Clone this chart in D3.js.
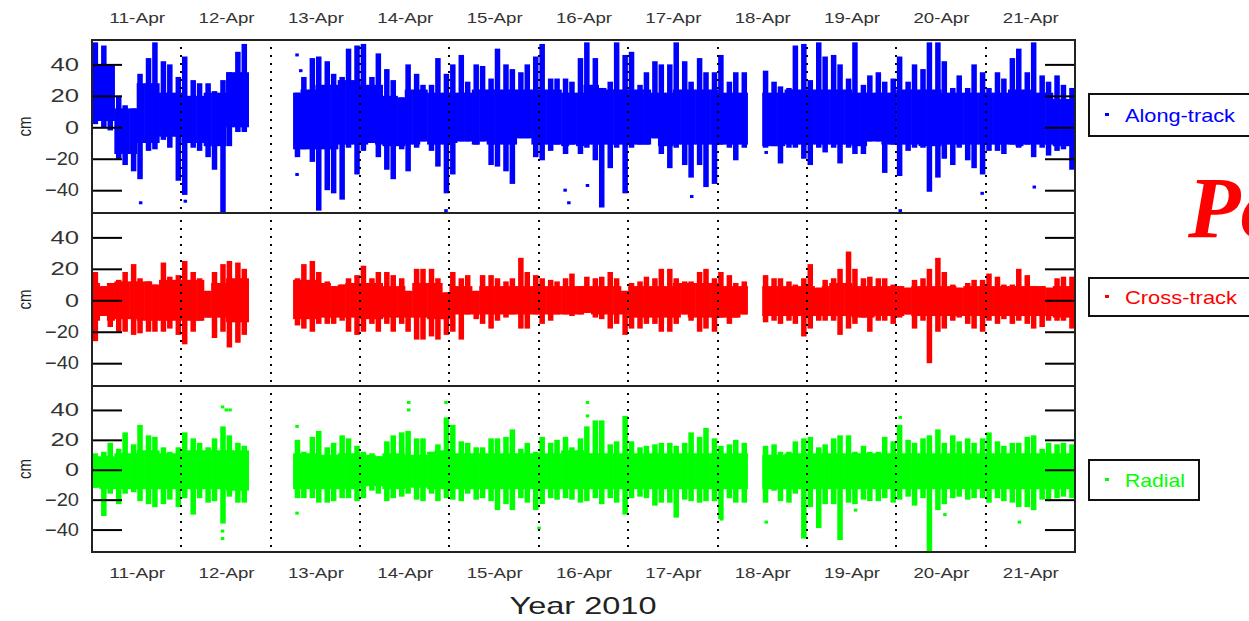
<!DOCTYPE html>
<meta charset="utf-8">
<style>
body { margin: 0; background: #fff; }
</style>
<body>
<script src="https://d3js.org/d3.v7.min.js"></script>
<script>

// 2-hour bins from 11-Apr 00:00 (132 bins), envelope of the scatter in cm, null = no data
var alongHi = [54,52,40,20,14,12,34,44,54,42,40,32,45,30,28,28,23,30,35,48,53,
  null,null,null,null,null,null,
  22,32,44,45,42,34,32,50,52,53,32,47,37,30,19,40,34,
  27,27,44,34,40,46,29,40,39,31,50,40,37,35,40,45,53,31,31,31,29,44,54,44,25,29,54,46,48,27,35,42,40,40,54,42,29,44,35,35,46,29,35,35,
  null,null,
  36,29,26,25,52,53,30,54,45,46,40,31,54,27,33,35,29,31,45,29,40,37,54,54,42,25,33,25,40,35,25,35,31,44,50,35,54,33,29,33,27,25];
var alongLo = [2,0,-2,-20,-24,-28,-33,-15,-14,-8,-13,-34,-43,-13,-15,-19,-27,-54,-12,-3,-3,
  null,null,null,null,null,null,
  -19,-14,-22,-53,-40,-42,-46,-13,-30,-15,-10,-19,-27,-33,-14,-28,-13,
  -9,-15,-25,-42,-30,-9,-9,-11,-9,-24,-25,-28,-36,-7,-7,-19,-21,-15,-11,-17,-11,-17,-13,-21,-51,-26,-13,-42,-13,-11,-11,-7,-17,-26,-13,-24,-32,-24,-38,-36,-11,-13,-21,-13,
  null,null,
  -13,-12,-23,-13,-13,-20,-24,-13,-16,-13,-23,-13,-17,-17,-9,-9,-29,-11,-31,-15,-13,-13,-41,-32,-20,-24,-13,-21,-26,-30,-15,-15,-17,-11,-13,-11,-19,-13,-18,-15,-14,-27];

var crossHi = [18,9,11,13,18,23,14,12,10,24,15,16,25,18,14,6,18,23,25,24,20,
  null,null,null,null,null,null,
  14,23,25,18,12,9,10,14,16,22,14,18,18,16,14,6,20,
  20,20,14,5,18,14,16,6,16,16,14,12,14,27,18,16,14,13,12,14,17,9,15,14,15,18,14,6,11,12,15,14,20,20,14,12,12,18,20,14,18,16,11,12,
  null,null,
  16,14,14,12,10,14,23,8,13,14,20,31,20,14,15,14,14,10,9,8,13,14,20,27,18,10,8,11,13,13,17,15,10,10,20,16,9,9,8,14,15,15];
var crossLo = [-26,-10,-17,-20,-20,-22,-21,-20,-20,-20,-18,-22,-28,-20,-13,-11,-24,-20,-30,-27,-22,
  null,null,null,null,null,null,
  -16,-18,-20,-15,-15,-15,-13,-20,-22,-20,-15,-20,-15,-20,-15,-20,-25,
  -25,-23,-25,-22,-20,-25,-9,-12,-15,-18,-13,-11,-9,-18,-18,-9,-15,-13,-9,-9,-10,-9,-8,-11,-12,-18,-15,-22,-18,-18,-15,-15,-20,-20,-15,-9,-13,-20,-18,-20,-11,-15,-11,-9,
  null,null,
  -14,-13,-15,-13,-15,-23,-18,-13,-13,-13,-22,-18,-15,-11,-20,-13,-13,-15,-11,-9,-18,-13,-40,-20,-18,-13,-11,-15,-18,-20,-13,-15,-12,-15,-13,-15,-18,-17,-13,-13,-13,-18];

var radialHi = [11,12,18,14,25,17,30,23,22,15,12,15,25,21,18,15,21,29,23,18,16,
  null,null,null,null,null,null,
  20,12,22,26,15,18,23,21,16,12,11,9,19,23,25,26,21,
  21,12,17,35,30,19,18,15,15,21,21,22,27,14,18,12,22,18,20,22,15,21,29,33,33,17,19,36,19,15,16,17,18,18,16,18,25,22,28,21,16,17,20,18,
  null,null,
  16,17,12,12,19,21,22,15,17,21,23,23,12,16,12,12,22,19,30,20,18,21,23,27,18,23,19,21,18,21,25,19,16,18,18,22,23,14,18,17,18,17];
var radialLo = [-12,-31,-16,-23,-16,-15,-21,-23,-25,-23,-20,-25,-19,-30,-19,-22,-21,-36,-18,-22,-22,
  null,null,null,null,null,null,
  -19,-19,-19,-22,-22,-21,-19,-19,-21,-19,-14,-16,-21,-19,-18,-16,-20,
  -21,-16,-21,-19,-20,-21,-16,-20,-19,-21,-27,-23,-27,-19,-22,-27,-23,-19,-20,-19,-20,-22,-21,-19,-23,-19,-22,-30,-19,-18,-19,-24,-22,-22,-32,-20,-21,-22,-21,-21,-33,-19,-22,-22,
  null,null,
  -22,-14,-21,-22,-16,-46,-25,-39,-23,-23,-47,-22,-23,-20,-21,-21,-19,-22,-20,-18,-24,-19,-55,-27,-23,-19,-18,-20,-19,-19,-22,-19,-21,-22,-25,-25,-27,-20,-21,-19,-18,-19];

// dense core of the cloud, 6-hour blocks (44)
var alongCoreHi = [40,12,28,22,20,22,35,null,null,24,27,30,27,20,24,22,22,24,24,24,24,22,27,24,24,22,24,24,22,22,22,24,24,24,22,22,24,24,22,22,22,24,22,18];
var alongCoreLo = [4,-17,-10,-6,-10,-12,0,null,null,-14,-14,-11,-11,-12,-11,-11,-10,-11,-11,-11,-11,-12,-11,-11,-11,-12,-11,-11,-11,-11,-12,-11,-11,-11,-12,-11,-11,-12,-11,-11,-11,-12,-11,-12];
var crossCoreHi = [11,12,12,13,13,11,14,null,null,13,11,11,11,9,11,11,9,9,9,9,9,9,9,9,9,9,11,11,9,9,9,9,9,11,9,9,9,9,9,9,9,9,9,9];
var crossCoreLo = [-13,-12,-13,-13,-13,-11,-14,null,null,-12,-11,-11,-12,-11,-11,-12,-9,-9,-9,-9,-9,-9,-9,-9,-11,-11,-11,-11,-11,-10,-10,-10,-10,-10,-11,-10,-10,-10,-10,-10,-10,-10,-10,-11];
var radialCoreHi = [9,11,13,11,13,13,13,null,null,11,10,11,10,11,10,13,11,11,11,11,11,13,11,11,11,11,11,11,11,11,10,11,11,11,11,11,11,11,11,11,11,11,11,11];
var radialCoreLo = [-13,-13,-13,-13,-13,-13,-14,null,null,-13,-13,-13,-11,-13,-12,-13,-13,-13,-13,-13,-13,-13,-13,-13,-13,-13,-13,-13,-13,-13,-13,-13,-13,-13,-13,-13,-13,-13,-13,-13,-13,-13,-13,-13];

// isolated points [hours after 11-Apr 00:00, cm]
var alongOut = [[13,-48],[25,-47],[55,-30],[55,46],[56,36],[95,-53],[127,-40],[128,-48],[133,-37],[161,-44],[217,-53],[239,-42],[253,-38],[181,-16]];
var crossOut = [];
var radialOut = [[35,42],[36,40],[37,40],[35,-41],[35,-46],[85,45],[85,40],[55,29],[55,-29],[95,45],[133,45],[133,36],[120,-39],[169,-33],[217,35],[217,29],[181,-35],[249,-35],[229,-30],[205,-27]];

var dayLabels = ["11-Apr","12-Apr","13-Apr","14-Apr","15-Apr","16-Apr","17-Apr","18-Apr","19-Apr","20-Apr","21-Apr"];
var yTicks = [-40, -20, 0, 20, 40];

var W = 1249, H = 621;
var start = new Date(2010, 3, 11);
var x = d3.scaleTime().domain([start, new Date(2010, 3, 22)]).range([92, 1075]);

var panels = [
  {name: "Along-track", color: "#0000ff", hi: alongHi, lo: alongLo, cHi: alongCoreHi, cLo: alongCoreLo, out: alongOut,
   y: d3.scaleLinear().domain([-54.5, 55.5]).range([213, 40]), box: [1089, 94, 175, 42], tl: 110},
  {name: "Cross-track", color: "#ff0000", hi: crossHi, lo: crossLo, cHi: crossCoreHi, cLo: crossCoreLo, out: crossOut,
   y: d3.scaleLinear().domain([-54.5, 55.5]).range([386, 213]), box: [1089, 278, 175, 38], tl: 112},
  {name: "Radial", color: "#00ff00", hi: radialHi, lo: radialLo, cHi: radialCoreHi, cLo: radialCoreLo, out: radialOut,
   y: d3.scaleLinear().domain([-55, 56]).range([552, 386]), box: [1089, 460, 110, 40], tl: 60}
];

var svg = d3.select("body").append("svg")
    .attr("width", W)
    .attr("height", H)
    .attr("font-family", "Liberation Sans, Arial, sans-serif");

var hour = function(h) { return d3.timeHour.offset(start, h); };

panels.forEach(function(p, pi) {
  var top = p.y.range()[1], bottom = p.y.range()[0];

  svg.append("clipPath").attr("id", "clip" + pi)
    .append("rect").attr("x", 92).attr("y", top).attr("width", 983).attr("height", bottom - top);

  var g = svg.append("g").attr("clip-path", "url(#clip" + pi + ")");

  var bins = p.hi.map(function(v, i) { return {i: i, hi: v, lo: p.lo[i], cHi: p.cHi[Math.floor(i / 3)], cLo: p.cLo[Math.floor(i / 3)]}; })
    .filter(function(d) { return d.hi != null; });

  // spikes of each bin
  g.selectAll("rect.env")
    .data(bins)
   .enter().append("rect")
    .attr("class", "env")
    .attr("x", function(d) { var a = x(hour(d.i * 2)), b = x(hour(d.i * 2 + 2)); return a + (b - a) * (d.i % 2 ? 0.22 : 0.08); })
    .attr("width", function(d) { return (x(hour(d.i * 2 + 2)) - x(hour(d.i * 2))) * 0.74; })
    .attr("y", function(d) { return p.y(d.hi); })
    .attr("height", function(d) { return p.y(d.lo) - p.y(d.hi); })
    .attr("fill", p.color);

  // dense core
  g.selectAll("rect.core")
    .data(bins.filter(function(d) { return d.cHi != null; }))
   .enter().append("rect")
    .attr("class", "core")
    .attr("x", function(d) { return x(hour(d.i * 2)); })
    .attr("width", function(d) { return x(hour(d.i * 2 + 2)) - x(hour(d.i * 2)) + 0.6; })
    .attr("y", function(d) { return p.y(Math.min(d.hi, d.cHi)); })
    .attr("height", function(d) { return p.y(Math.max(d.lo, d.cLo)) - p.y(Math.min(d.hi, d.cHi)); })
    .attr("fill", p.color);

  g.selectAll("rect.out")
    .data(p.out)
   .enter().append("rect")
    .attr("x", function(d) { return x(hour(d[0])) - 1.5; })
    .attr("y", function(d) { return p.y(d[1]) - 1.5; })
    .attr("width", 3.5).attr("height", 3)
    .attr("fill", p.color);

  // dotted day lines
  svg.append("g").selectAll("line")
    .data(d3.range(1, 11))
   .enter().append("line")
    .attr("x1", function(d) { return Math.round(x(d3.timeDay.offset(start, d))); })
    .attr("x2", function(d) { return Math.round(x(d3.timeDay.offset(start, d))); })
    .attr("y1", top + 7).attr("y2", bottom - 2)
    .attr("stroke", "#000").attr("stroke-width", 2)
    .attr("stroke-dasharray", "2,6");

  // inner ticks with labels on the left, bare ticks on the right
  var left = svg.append("g")
      .attr("transform", "translate(92,0)")
      .call(d3.axisLeft(p.y).tickValues(yTicks).tickSizeInner(-30).tickSizeOuter(0).tickPadding(13));
  left.select(".domain").remove();
  left.selectAll("line").attr("stroke", "#000").attr("stroke-width", 2);
  left.selectAll("text")
      .attr("font-size", 18).attr("fill", "#333")
      .attr("font-family", "Liberation Sans, Arial, sans-serif")
      .attr("textLength", function(d) { return d < 0 ? 34 : (d == 0 ? 14 : 28.5); })
      .attr("lengthAdjust", "spacingAndGlyphs");

  var right = svg.append("g")
      .attr("transform", "translate(1075,0)")
      .call(d3.axisRight(p.y).tickValues(yTicks).tickSizeInner(-30).tickSizeOuter(0).tickFormat(""));
  right.select(".domain").remove();
  right.selectAll("line").attr("stroke", "#000").attr("stroke-width", 2);

  // y label
  svg.append("text")
    .attr("transform", "translate(31," + ((top + bottom) / 2) + ") rotate(-90)")
    .attr("text-anchor", "middle")
    .attr("font-size", 19).attr("fill", "#222")
    .attr("textLength", 20).attr("lengthAdjust", "spacingAndGlyphs")
    .text("cm");

  // legend
  svg.append("rect")
    .attr("x", p.box[0]).attr("y", p.box[1])
    .attr("width", p.box[2]).attr("height", p.box[3])
    .attr("fill", "#fff").attr("stroke", "#111").attr("stroke-width", 2);
  svg.append("rect")
    .attr("x", 1105).attr("y", p.box[1] + p.box[3] / 2 - 2)
    .attr("width", 4).attr("height", 3)
    .attr("fill", p.color);
  svg.append("text")
    .attr("x", 1125).attr("y", p.box[1] + p.box[3] / 2 + 7)
    .attr("font-size", 19).attr("fill", p.color)
    .attr("textLength", p.tl).attr("lengthAdjust", "spacingAndGlyphs")
    .text(p.name);
});

// frame
svg.append("rect").attr("x", 92).attr("y", 40).attr("width", 983).attr("height", 512)
  .attr("fill", "none").attr("stroke", "#222").attr("stroke-width", 2);
[213, 386].forEach(function(yy) {
  svg.append("line").attr("x1", 92).attr("x2", 1075).attr("y1", yy).attr("y2", yy)
    .attr("stroke", "#222").attr("stroke-width", 2);
});

// date labels at midday, top and bottom
var noon = dayLabels.map(function(s, i) { return d3.timeHour.offset(d3.timeDay.offset(start, i), 12); });
var fmt = function(d) { return dayLabels[noon.findIndex(function(n) { return +n == +d; })]; };

var topAx = svg.append("g").attr("transform", "translate(0,40)")
    .call(d3.axisTop(x).tickValues(noon).tickSize(0).tickPadding(17).tickFormat(fmt));
var botAx = svg.append("g").attr("transform", "translate(0,552)")
    .call(d3.axisBottom(x).tickValues(noon).tickSize(0).tickPadding(16).tickFormat(fmt));
[topAx, botAx].forEach(function(a) {
  a.select(".domain").remove();
  a.selectAll("text")
    .attr("font-size", 14).attr("fill", "#333")
    .attr("font-family", "Liberation Sans, Arial, sans-serif")
    .attr("textLength", 56).attr("lengthAdjust", "spacingAndGlyphs");
});

svg.append("text")
  .attr("x", 583).attr("y", 614)
  .attr("text-anchor", "middle")
  .attr("font-size", 24).attr("fill", "#222")
  .attr("textLength", 147).attr("lengthAdjust", "spacingAndGlyphs")
  .text("Year 2010");

// big red title, cut off by the right edge as in the original slide
svg.append("text")
  .attr("x", 1188).attr("y", 237)
  .style("font-family", "'Liberation Serif', 'DejaVu Serif', serif")
  .style("font-style", "italic").style("font-weight", "bold")
  .style("font-size", "86px").attr("fill", "#ff0000")
  .text("Po");

</script>
</body>
